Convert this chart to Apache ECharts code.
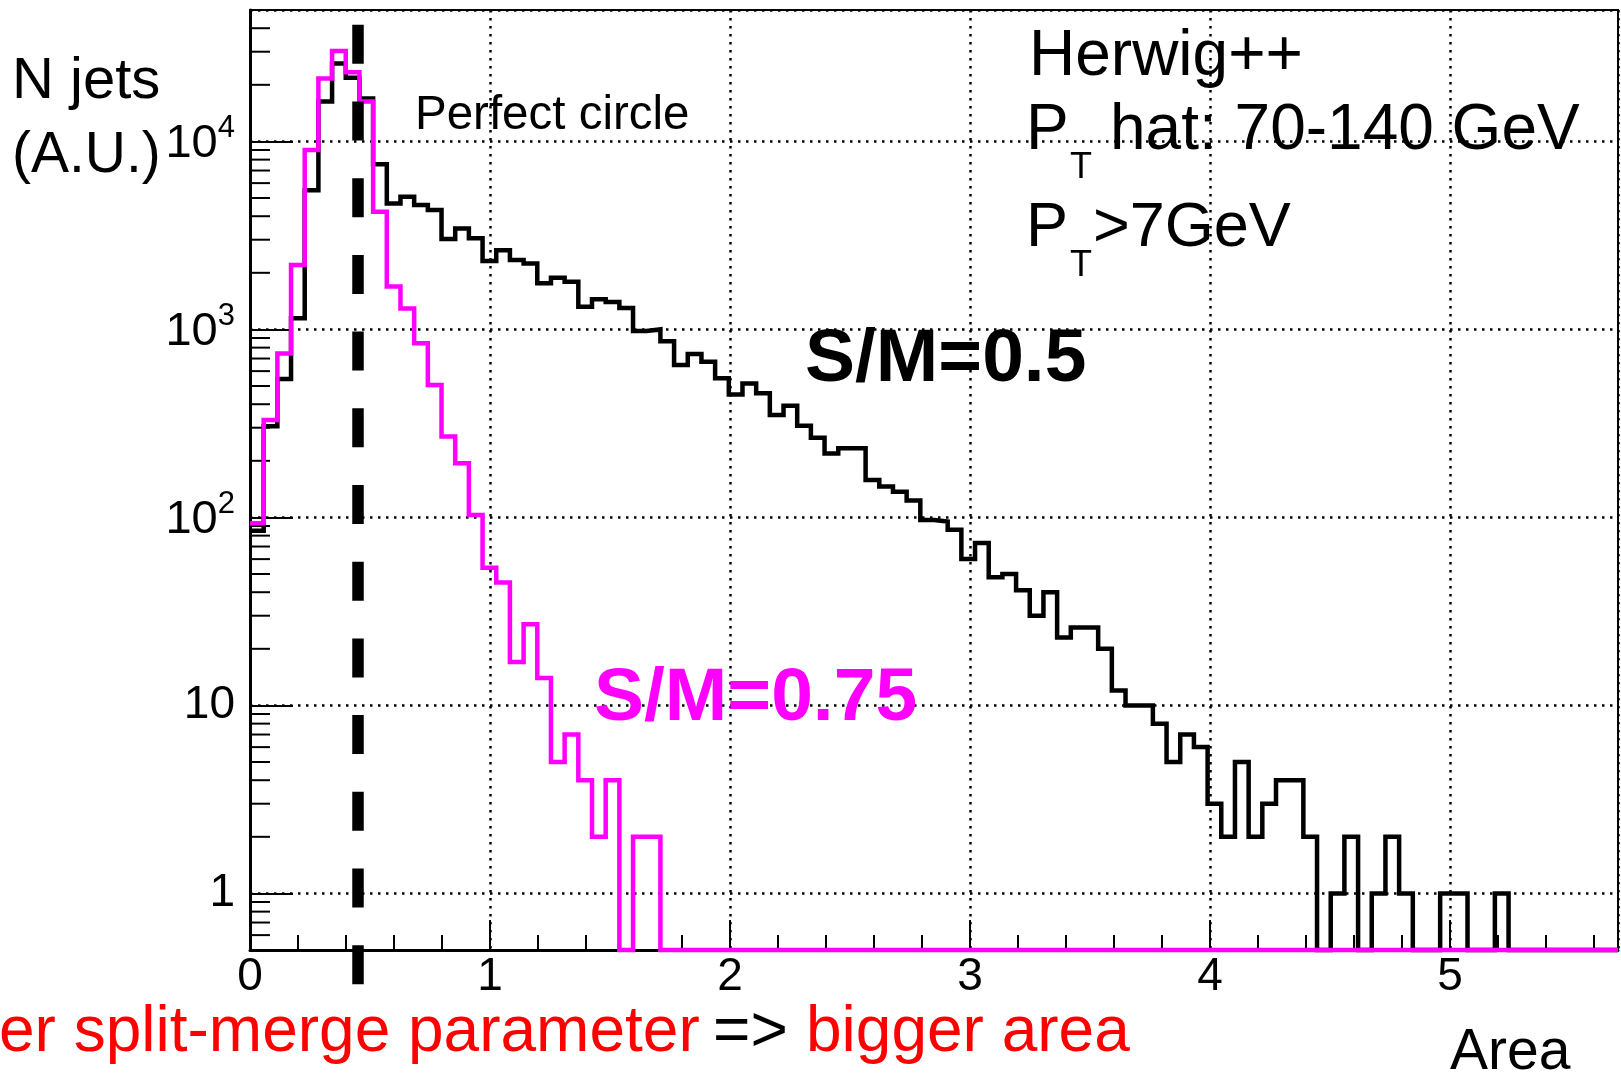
<!DOCTYPE html>
<html>
<head>
<meta charset="utf-8">
<script src="https://cdn.jsdelivr.net/npm/echarts@6/dist/echarts.min.js"></script>
<style>
  html, body { margin: 0; padding: 0; background: #ffffff; }
  #chart { width: 1621px; height: 1080px; }
</style>
</head>
<body>
<div id="chart"></div>
<script>
// Jet area histograms (Herwig++, 100 bins of 0.057 from 0 to 5.7)
const binWidth = 0.057;

// Counts per bin, split-merge parameter 0.5
const countsSM05 = [
  85, 305, 545, 1145, 5500, 16300, 26000, 21800, 16900, 7550,
  4680, 5080, 4590, 4310, 3030, 3440, 3050, 2310, 2640, 2340,
  2245, 1760, 1885, 1790, 1320, 1445, 1400, 1300, 980, 1000,
  865, 647, 740, 673, 550, 451, 516, 457, 351, 393,
  307, 265, 219, 233, 233, 158, 146, 137, 123, 97,
  95, 86, 60, 73, 48, 50, 41, 30, 40, 23,
  26, 26, 20, 12, 10, 10, 8, 5, 7, 6,
  3, 2, 5, 2, 3, 4, 4, 2, 0, 1,
  2, 0, 1, 2, 1, 0, 0, 1, 1, 0,
  0, 1, 0, 0, 0, 0, 0, 0, 0, 0
];

// Counts per bin, split-merge parameter 0.75
const countsSM075 = [
  93, 330, 745, 2200, 9000, 21600, 30300, 23300, 16300, 4230,
  1690, 1290, 843, 506, 269, 194, 103, 54, 45, 17,
  27, 14, 5, 7, 4, 2, 4, 0, 2, 2,
  0, 0, 0, 0, 0, 0, 0, 0, 0, 0,
  0, 0, 0, 0, 0, 0, 0, 0, 0, 0,
  0, 0, 0, 0, 0, 0, 0, 0, 0, 0,
  0, 0, 0, 0, 0, 0, 0, 0, 0, 0,
  0, 0, 0, 0, 0, 0, 0, 0, 0, 0,
  0, 0, 0, 0, 0, 0, 0, 0, 0, 0,
  0, 0, 0, 0, 0, 0, 0, 0, 0, 0
];

// Axis ranges and tick labels
const xRange = [0, 5.7];
const yRange = [0.5, 50000];
const xTickLabels = ['0', '1', '2', '3', '4', '5'];
const yTickLabels = { 1: '1', 10: '10', 100: '{b|10}{s|2}', 1000: '{b|10}{s|3}', 10000: '{b|10}{s|4}' };

// Area of a perfect circle (vertical reference line) and its drawn extent
const perfectCircleArea = 0.45;
const perfectCircleSpan = [41700, 0.32];

const FONT = '"Liberation Sans", Arial, Helvetica, sans-serif';

// Histogram outline as left-edge step points; empty bins sit on the axis floor
function stepPoints(counts) {
  const pts = counts.map((c, i) => [i * binWidth, c > 0 ? c : yRange[0]]);
  const last = counts[counts.length - 1];
  pts.push([counts.length * binWidth, last > 0 ? last : yRange[0]]);
  return pts;
}

// Minor ticks: every 0.2 on x, 2..9 per decade on y
const minorTicks = [];
for (let k = 1; k * 0.2 < xRange[1]; k++) {
  const x = Math.round(k * 2) / 10;
  if (Math.abs(x - Math.round(x)) > 1e-9) minorTicks.push([x, yRange[0], 0]);
}
for (let d = -1; d <= 4; d++) {
  for (let m = 2; m <= 9; m++) {
    const v = m * Math.pow(10, d);
    if (v > yRange[0] && v < yRange[1]) minorTicks.push([xRange[0], v, 1]);
  }
}

function txt(text, x, y, size, opts) {
  opts = opts || {};
  return {
    type: 'text', x: x, y: y, silent: true, z: 50,
    style: {
      text: text,
      font: (opts.bold ? 'bold ' : '') + size + 'px ' + FONT,
      fill: opts.color || '#000000',
      align: 'left',
      verticalAlign: 'middle'
    }
  };
}

const chart = echarts.init(document.getElementById('chart'), null, { renderer: 'canvas' });

chart.setOption({
  animation: false,
  backgroundColor: '#ffffff',
  grid: {
    left: 250, right: 3, top: 10, bottom: 130,
    show: true, borderColor: '#000000', borderWidth: 2, backgroundColor: 'transparent'
  },
  xAxis: {
    type: 'value',
    min: xRange[0], max: xRange[1], interval: 1,
    axisLine: { onZero: false, lineStyle: { color: '#000000', width: 3 } },
    axisTick: { inside: true, length: 30, lineStyle: { color: '#000000', width: 2 } },
    minorTick: { show: false },
    splitLine: { show: true, lineStyle: { color: '#000000', width: 2.5, type: [2.5, 5.5] } },
    axisLabel: {
      margin: 4,
      fontFamily: FONT, fontSize: 46, lineHeight: 46, color: '#000000',
      formatter: function (v) {
        const i = Math.round(v);
        return Math.abs(v - i) < 1e-6 && xTickLabels[i] !== undefined ? xTickLabels[i] : '';
      }
    }
  },
  yAxis: {
    type: 'log', logBase: 10,
    min: yRange[0], max: yRange[1], splitNumber: 5,
    axisLine: { onZero: false, lineStyle: { color: '#000000', width: 3 } },
    axisTick: { inside: true, length: 43, lineStyle: { color: '#000000', width: 2 } },
    minorTick: { show: false },
    splitLine: { show: true, lineStyle: { color: '#000000', width: 2.5, type: [2.5, 5.5] } },
    axisLabel: {
      margin: 15,
      fontFamily: FONT, fontSize: 46, color: '#000000',
      formatter: function (v) {
        const key = Math.round(v);
        return Math.abs(v - key) < 1e-6 && yTickLabels[key] ? yTickLabels[key] : '';
      },
      rich: {
        b: { fontFamily: FONT, fontSize: 47, lineHeight: 56, padding: [6, 0, 0, 0], color: '#000000' },
        s: { fontFamily: FONT, fontSize: 31, lineHeight: 30, color: '#000000', verticalAlign: 'top' }
      }
    }
  },
  series: [
    {
      name: 'minor ticks',
      type: 'custom',
      coordinateSystem: 'cartesian2d',
      silent: true,
      clip: false,
      z: 3,
      data: minorTicks,
      renderItem: function (params, api) {
        const p = api.coord([api.value(0), api.value(1)]);
        const onX = api.value(2) === 0;
        return {
          type: 'line',
          shape: onX
            ? { x1: p[0], y1: p[1], x2: p[0], y2: p[1] - 15 }
            : { x1: p[0], y1: p[1], x2: p[0] + 20, y2: p[1] },
          style: { stroke: '#000000', lineWidth: 2 }
        };
      }
    },
    {
      name: 'S/M=0.5',
      type: 'line',
      step: 'end',
      data: stepPoints(countsSM05),
      showSymbol: false, symbol: 'none',
      clip: false,
      z: 5,
      lineStyle: { color: '#000000', width: 4.5, join: 'miter' }
    },
    {
      name: 'S/M=0.75',
      type: 'line',
      step: 'end',
      data: stepPoints(countsSM075),
      showSymbol: false, symbol: 'none',
      clip: false,
      z: 6,
      lineStyle: { color: '#ff00ff', width: 4.5, join: 'miter' }
    },
    {
      name: 'Perfect circle',
      type: 'line',
      data: [[perfectCircleArea, perfectCircleSpan[0]], [perfectCircleArea, perfectCircleSpan[1]]],
      showSymbol: false, symbol: 'none',
      clip: false,
      z: 7,
      lineStyle: { color: '#000000', width: 11.5, type: [39, 37.7], cap: 'butt' }
    }
  ],
  graphic: [
    txt('N jets', 12, 82, 58),
    txt('(A.U.)', 12, 156, 57),
    txt('Perfect circle', 415, 116, 47.5),
    txt('Herwig++', 1029, 57, 64),
    txt('P', 1026, 131, 64),
    txt('T', 1070, 168, 36),
    txt('hat: 70-140 GeV', 1110, 131, 64),
    txt('P', 1026, 229, 63),
    txt('T', 1070, 266, 36),
    txt('>7GeV', 1093, 229, 63),
    txt('S/M=0.5', 805, 360, 75, { bold: true }),
    txt('S/M=0.75', 594, 699, 75, { bold: true, color: '#ff00ff' }),
    txt('Area', 1450, 1053, 57),
    txt('er split-merge parameter', -1, 1033, 64, { color: '#ff0000' }),
    txt('=>', 713, 1033, 64),
    txt('bigger area', 806, 1033, 64, { color: '#ff0000' })
  ]
});
</script>
</body>
</html>
